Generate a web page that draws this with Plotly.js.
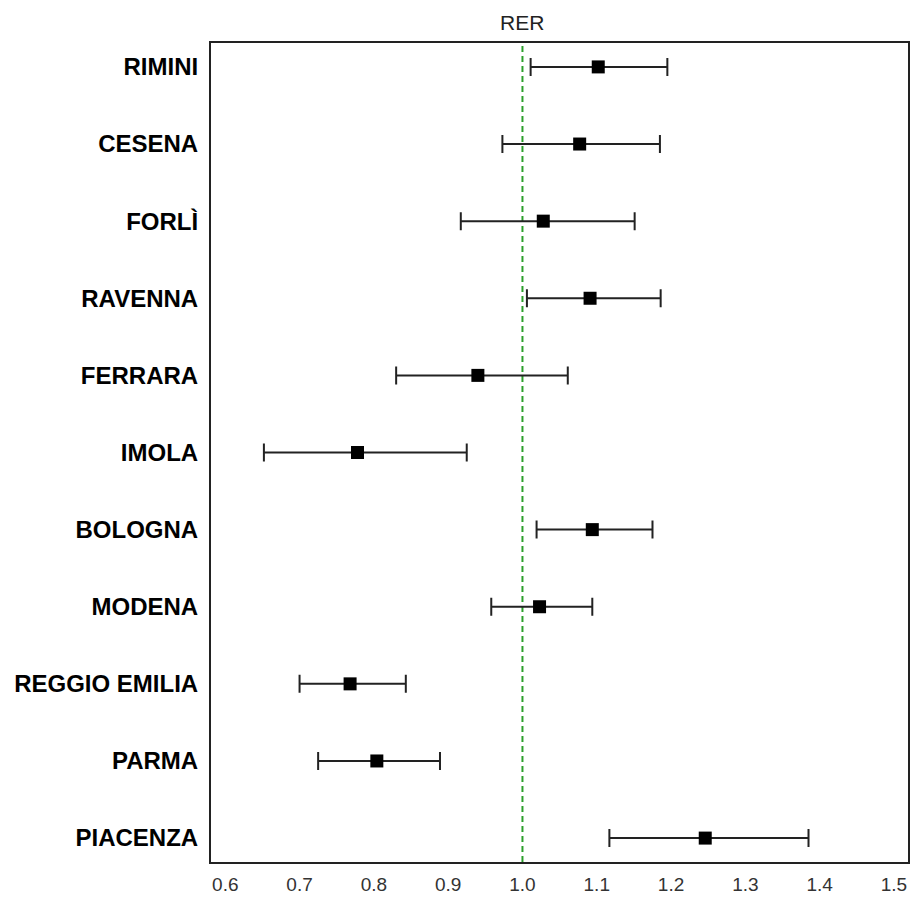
<!DOCTYPE html>
<html>
<head>
<meta charset="utf-8">
<script src="https://cdn.plot.ly/plotly-3.0.1.min.js"></script>
<style>
  html, body { margin: 0; padding: 0; background: #fff; }
  #chart { width: 915px; height: 902px; }
</style>
</head>
<body>
<div id="chart"></div>
<script>
// Health districts of Emilia-Romagna, top to bottom
const districts = ["RIMINI", "CESENA", "FORLÌ", "RAVENNA", "FERRARA", "IMOLA",
                   "BOLOGNA", "MODENA", "REGGIO EMILIA", "PARMA", "PIACENZA"];
// Point estimates and confidence limits
const estimate = [1.102, 1.077, 1.028, 1.091, 0.940, 0.778, 1.094, 1.023, 0.768, 0.804, 1.246];
const lower    = [1.011, 0.973, 0.917, 1.006, 0.830, 0.652, 1.019, 0.958, 0.700, 0.725, 1.117];
const upper    = [1.195, 1.185, 1.151, 1.186, 1.061, 0.925, 1.175, 1.094, 0.843, 0.889, 1.385];
// Regional reference value
const regionLabel = "RER";
const regionValue = 1.0;
const xTicks = [0.6, 0.7, 0.8, 0.9, 1.0, 1.1, 1.2, 1.3, 1.4, 1.5];

const trace = {
  type: "scatter",
  mode: "markers",
  x: estimate,
  y: districts,
  marker: { symbol: "square", size: 13, color: "#000" },
  error_x: {
    type: "data",
    symmetric: false,
    array: upper.map((u, i) => u - estimate[i]),
    arrayminus: lower.map((l, i) => estimate[i] - l),
    color: "#222",
    thickness: 2,
    width: 9
  },
  hoverinfo: "x+y"
};

const layout = {
  width: 915,
  height: 902,
  margin: { l: 211, r: 7, t: 43, b: 40 },
  paper_bgcolor: "#fff",
  plot_bgcolor: "#fff",
  showlegend: false,
  font: { family: "Liberation Sans, Arial, sans-serif", color: "#222" },
  xaxis: {
    range: [0.5808, 1.5189],
    tickmode: "array",
    tickvals: xTicks,
    ticktext: xTicks.map(v => v.toFixed(1)),
    ticks: "",
    showgrid: false,
    zeroline: false,
    showline: true,
    mirror: true,
    linecolor: "#222",
    linewidth: 2,
    tickfont: { size: 19, color: "#333" },
    ticklabelstandoff: 4
  },
  yaxis: {
    type: "category",
    categoryorder: "array",
    categoryarray: districts,
    range: [10.31, -0.31],
    ticks: "",
    showgrid: false,
    zeroline: false,
    showline: true,
    mirror: true,
    linecolor: "#222",
    linewidth: 2,
    tickfont: { size: 24, color: "#000", weight: "bold" },
    ticklabelstandoff: 6
  },
  shapes: [{
    type: "line",
    xref: "x", yref: "paper",
    x0: regionValue, x1: regionValue, y0: 0, y1: 1,
    line: { color: "#2ca02c", width: 2, dash: "6px,4px" },
    layer: "below"
  }],
  annotations: [{
    xref: "x", yref: "paper",
    x: regionValue, y: 1,
    yanchor: "bottom", yshift: 7,
    text: regionLabel,
    showarrow: false,
    font: { size: 21, color: "#222" }
  }]
};

Plotly.newPlot("chart", [trace], layout, { displayModeBar: false, staticPlot: true });
</script>
</body>
</html>
